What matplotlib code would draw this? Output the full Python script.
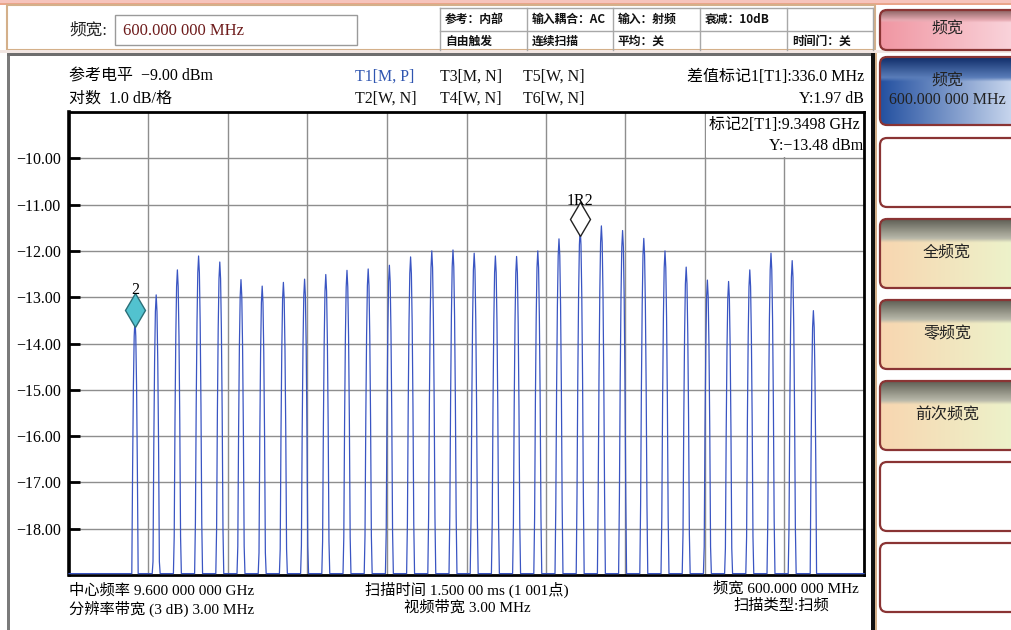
import numpy as np
import matplotlib
matplotlib.use('Agg')
import matplotlib.pyplot as plt
from matplotlib.patches import Rectangle, FancyBboxPatch
from matplotlib import transforms

SERIF = ['Liberation Serif', 'Noto Sans CJK SC']
SANS = ['Noto Sans CJK SC', 'DejaVu Sans']
plt.rcParams['font.family'] = SERIF

# peak frequencies (GHz) and peak levels (dBm)
peak_freq = [9.3498, 9.3658, 9.3818, 9.3978, 9.4138, 9.4298, 9.4458, 9.4618,
             9.4778, 9.4938, 9.5098, 9.5258, 9.5418, 9.5578, 9.5738, 9.5898,
             9.6058, 9.6218, 9.6378, 9.6538, 9.6698, 9.6858, 9.7018, 9.7178,
             9.7338, 9.7498, 9.7658, 9.7818, 9.7978, 9.8138, 9.8298, 9.8458,
             9.8618]
peak_level = [-13.48, -12.95, -12.41, -12.11, -12.24, -12.62, -12.76, -12.68,
              -12.61, -12.51, -12.42, -12.39, -12.31, -12.13, -12.00, -11.98,
              -12.05, -12.11, -12.12, -12.00, -11.74, -11.51, -11.46, -11.56,
              -11.73, -12.00, -12.35, -12.63, -12.66, -12.41, -12.05, -12.21,
              -13.29]
y_ticks = [-18, -17, -16, -15, -14, -13, -12, -11, -10]
ref_marker = 21   # index of peak carrying the 1R2 delta marker
marker2 = 0       # index of peak carrying marker 2

# the instrument shows each line through the RBW filter (parabola in dB)
rbw_steps = np.array([-3.0, -2.4, -1.8, -1.2, -0.6, 0.0, 0.6, 1.2, 1.8, 2.4, 3.0]) / 1000.0
floor = -18.97
trace_x = [9.3]
trace_y = [floor]
for f, p in zip(peak_freq, peak_level):
    lv = p - 1.0 * (rbw_steps * 1000) ** 2
    trace_x.extend(f + rbw_steps)
    trace_y.extend(np.clip(lv, floor, None))
trace_x.append(9.9)
trace_y.append(floor)

fig = plt.figure(figsize=(10.11, 6.30), dpi=100)
fig.patch.set_facecolor('white')

# background layer in pixel coordinates
bg = fig.add_axes([0, 0, 1, 1], zorder=0)
bg.set_xlim(0, 1011)
bg.set_ylim(630, 0)
bg.axis('off')

# top bar
bg.add_patch(Rectangle((0, 0), 1011, 3, fc='#f6c4bc', ec='none'))
bg.add_patch(Rectangle((0, 3), 1011, 1.5, fc='#eaa58a', ec='none'))
bg.add_patch(Rectangle((7, 5), 868, 45, fc='white', ec='#d4b08a', lw=1.5))
bg.text(107, 31, '频宽:', fontsize=12, ha='right', va='center', color='#222222')
bg.add_patch(Rectangle((115, 15), 242, 30, fc='white', ec='#9a9a9a', lw=1))
bg.text(123, 31, '600.000 000 MHz', fontsize=12, ha='left', va='center',
        color='#6e1c1c')

# status table
cols = [440, 527, 613, 700, 787, 873]
for cx in cols:
    bg.plot([cx, cx], [8, 50], color='#a8a8a8', lw=1)
bg.plot([440, 873], [8, 8], color='#a8a8a8', lw=1)
bg.plot([440, 873], [31, 31], color='#a8a8a8', lw=1)
row1 = ['参考：内部', '输入耦合：AC', '输入：射频', '衰减：10dB', '']
row2 = ['自由触发', '连续扫描', '平均：关', '', '时间门：关']
for i in range(5):
    bg.text(cols[i] + 5, 19.5, row1[i], fontsize=8.5, fontweight='bold',
            family=SANS, ha='left', va='center', color='#111111')
    bg.text(cols[i] + 5, 41.5, row2[i], fontsize=8.5, fontweight='bold',
            family=SANS, ha='left', va='center', color='#111111')

# main display frame
bg.add_patch(Rectangle((0, 50), 1011, 3, fc='#f2e6e2', ec='none'))
bg.add_patch(Rectangle((7, 53), 3, 577, fc='#7a7a7a', ec='none'))
bg.add_patch(Rectangle((7, 53), 868, 3, fc='#6e6e6e', ec='none'))
bg.add_patch(Rectangle((871, 53), 4, 577, fc='#111111', ec='none'))
bg.add_patch(Rectangle((875, 53), 1.5, 577, fc='#d4b08a', ec='none'))

# header texts
bg.text(69, 77, '参考电平  −9.00 dBm', fontsize=11.5, va='center')
bg.text(69, 99, '对数  1.0 dB/格', fontsize=11.5, va='center')
trace_tags = [('T1[M, P]', 355, 77, '#2f55b0'), ('T3[M, N]', 440, 77, '#111111'),
              ('T5[W, N]', 523, 77, '#111111'), ('T2[W, N]', 355, 99, '#111111'),
              ('T4[W, N]', 440, 99, '#111111'), ('T6[W, N]', 523, 99, '#111111')]
for s, tx, ty, c in trace_tags:
    bg.text(tx, ty, s, fontsize=11.5, va='center', color=c)
bg.text(864, 77, '差值标记1[T1]:336.0 MHz', fontsize=11.5, va='center', ha='right')
bg.text(864, 99, 'Y:1.97 dB', fontsize=11.5, va='center', ha='right')

# footer texts
bg.text(69, 591, '中心频率 9.600 000 000 GHz', fontsize=11, va='center')
bg.text(69, 609, '分辨率带宽 (3 dB) 3.00 MHz', fontsize=11, va='center')
bg.text(467, 590, '扫描时间 1.500 00 ms (1 001点)', fontsize=11, va='center', ha='center')
bg.text(467, 607, '视频带宽 3.00 MHz', fontsize=11, va='center', ha='center')
bg.text(786, 588, '频宽 600.000 000 MHz', fontsize=11, va='center', ha='center')
bg.text(781, 606, '扫描类型:扫频', fontsize=11, va='center', ha='center')


def button(y0, h, label, left=None, right=None, top=None, band=0.3):
    patch = FancyBboxPatch((880, y0), 140, h, boxstyle='round,pad=0,rounding_size=7',
                           fc='white' if left is None else 'none',
                           ec='#8a3434', lw=1.6, zorder=3)
    bg.add_patch(patch)
    if left is not None:
        t = np.linspace(0, 1, 200)[None, :, None]
        body = np.array(left) * (1 - t) + np.array(right) * t
        v = np.linspace(0, 1, 120)[:, None, None]
        body = np.repeat(body, 120, axis=0)
        light = np.array(top[1])
        dark = np.array(top[0])
        s = np.clip(v / band, 0, 1)
        band_col = dark * (1 - s) + light * s
        mix = np.clip((v - band) / 0.06, 0, 1)
        img = band_col * (1 - mix) + body * mix
        im = bg.imshow(img / 255.0, extent=[880, 1020, y0 + h, y0], aspect='auto',
                       zorder=2, interpolation='bilinear')
        im.set_clip_path(patch)
    if label:
        bg.text(947, y0 + h / 2, label, fontsize=11.5, ha='center', va='center',
                color='#222222', zorder=4)


button(10, 40, '频宽', left=(240, 150, 162), right=(250, 215, 222),
       top=((140, 100, 100), (230, 170, 178)), band=0.25)
button(57, 68, '频宽\n600.000 000 MHz', left=(35, 80, 160), right=(210, 222, 242),
       top=((15, 45, 105), (90, 125, 185)), band=0.3)
button(138, 69, '')
green = dict(left=(248, 214, 176), right=(236, 244, 204),
             top=((95, 95, 85), (185, 185, 170)), band=0.28)
button(219, 69, '全频宽', **green)
button(300, 69, '零频宽', **green)
button(381, 69, '前次频宽', **green)
button(462, 69, '')
button(543, 69, '')
bg.set_xlim(0, 1011)
bg.set_ylim(630, 0)

# spectrum plot
ax = fig.add_axes([69 / 1011, 1 - 575 / 630, 795 / 1011, 463 / 630], zorder=2)
ax.set_facecolor('white')
ax.set_xlim(9.3, 9.9)
ax.set_ylim(-19, -9)
ax.set_xticks(np.linspace(9.3, 9.9, 11))
ax.set_yticks(y_ticks)
ax.set_yticklabels([f'{v:.2f}'.replace('-', '\u2212') for v in y_ticks], fontsize=11.5)
ax.tick_params(axis='x', length=0, labelbottom=False)
ax.tick_params(axis='y', direction='in', length=8, width=2, color='black', pad=6)
ax.set_axisbelow(True)
ax.grid(True, color='#8e8e8e', lw=1)
for sp in ax.spines.values():
    sp.set_linewidth(2)
    sp.set_color('black')
ax.spines['left'].set_linewidth(2.6)

ax.plot(trace_x, trace_y, color='#3a55c2', lw=0.9, zorder=3, clip_on=False)

# marker readout box
ax.add_patch(Rectangle(((706 - 69) / 795, (575 - 157) / 463), (862 - 706) / 795,
                       (157 - 113) / 463, transform=ax.transAxes, fc='white',
                       ec='none', zorder=2))
ax.text(0.995, (575 - 125) / 463, '标记2[T1]:9.3498 GHz', transform=ax.transAxes,
        fontsize=11.5, ha='right', va='center', zorder=4)
ax.text(0.999, (575 - 146) / 463, 'Y:−13.48 dBm', transform=ax.transAxes,
        fontsize=11.5, ha='right', va='center', zorder=4)

# markers
up = transforms.offset_copy(ax.transData, fig=fig, x=0, y=9, units='dots')
ax.plot([peak_freq[marker2]], [peak_level[marker2]], marker='d', ms=17,
        mfc='#52c2cf', mec='#2b6f78', mew=1, transform=up, zorder=5, clip_on=False)
ax.annotate('2', (peak_freq[marker2], peak_level[marker2]), xytext=(0, 29),
            textcoords='offset pixels', ha='center', va='center', fontsize=11.5, zorder=5)
ax.plot([peak_freq[ref_marker]], [peak_level[ref_marker]], marker='d', ms=17,
        mfc='white', mec='#222222', mew=1, transform=up, zorder=5, clip_on=False)
ax.annotate('1R2', (peak_freq[ref_marker], peak_level[ref_marker]), xytext=(0, 27),
            textcoords='offset pixels', ha='center', va='center', fontsize=11.5, zorder=5)

fig.savefig('out.png', dpi=100)
